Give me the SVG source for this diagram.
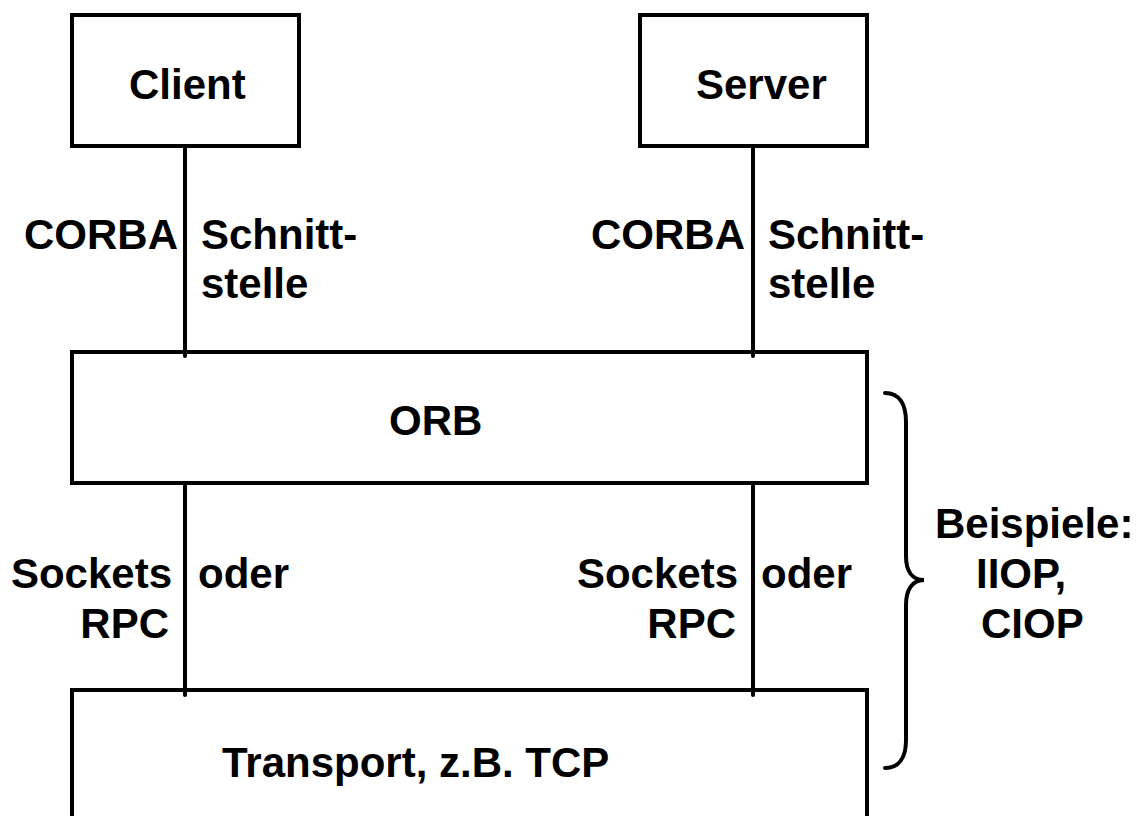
<svg xmlns="http://www.w3.org/2000/svg" width="1141" height="816" viewBox="0 0 1141 816">
<style>
.box{fill:none;stroke:#000;stroke-width:4}
.ln{stroke:#000;stroke-width:4;stroke-linecap:round;fill:none}
text{font-family:"Liberation Sans",Arial,sans-serif;font-weight:bold;font-size:42px;fill:#000}
.e{text-anchor:end}
</style>
<rect width="1141" height="816" fill="#fff"/>
<g id="connectors">
<line class="ln" x1="185" y1="148" x2="185" y2="356"/>
<line class="ln" x1="753" y1="148" x2="753" y2="356"/>
<line class="ln" x1="185" y1="484" x2="185" y2="695"/>
<line class="ln" x1="753" y1="484" x2="753" y2="695"/>
</g>
<g id="client"><rect class="box" x="72" y="15" width="227" height="131"/><text x="129" y="99">Client</text></g>
<g id="server"><rect class="box" x="640" y="15" width="227" height="131"/><text x="696" y="99">Server</text></g>
<g id="orb"><rect class="box" x="72" y="352" width="795" height="131"/><text x="389" y="435">ORB</text></g>
<g id="transport"><path class="box" d="M72 820 V690 H867 V820"/><text x="222" y="777">Transport, z.B. TCP</text></g>
<g id="labels">
<text x="24" y="249">CORBA</text>
<text x="201" y="249">Schnitt-</text>
<text x="201" y="298">stelle</text>
<text x="591" y="249">CORBA</text>
<text x="768" y="249">Schnitt-</text>
<text x="768" y="298">stelle</text>
<text class="e" x="172" y="588">Sockets</text>
<text class="e" x="169" y="638">RPC</text>
<text x="198" y="588">oder</text>
<text class="e" x="738" y="588">Sockets</text>
<text class="e" x="736" y="638">RPC</text>
<text x="761" y="588">oder</text>
</g>
<g id="brace">
<path class="ln" d="M885 393 C900 393 906 405 906 422 L906 556 C906 571 912 580 924 580 C912 580 906 590 906 605 L906 740 C906 756 900 768 885 768"/>
<text x="935" y="538">Beispiele:</text>
<text x="976" y="588">IIOP,</text>
<text x="981" y="638">CIOP</text>
</g>
</svg>
